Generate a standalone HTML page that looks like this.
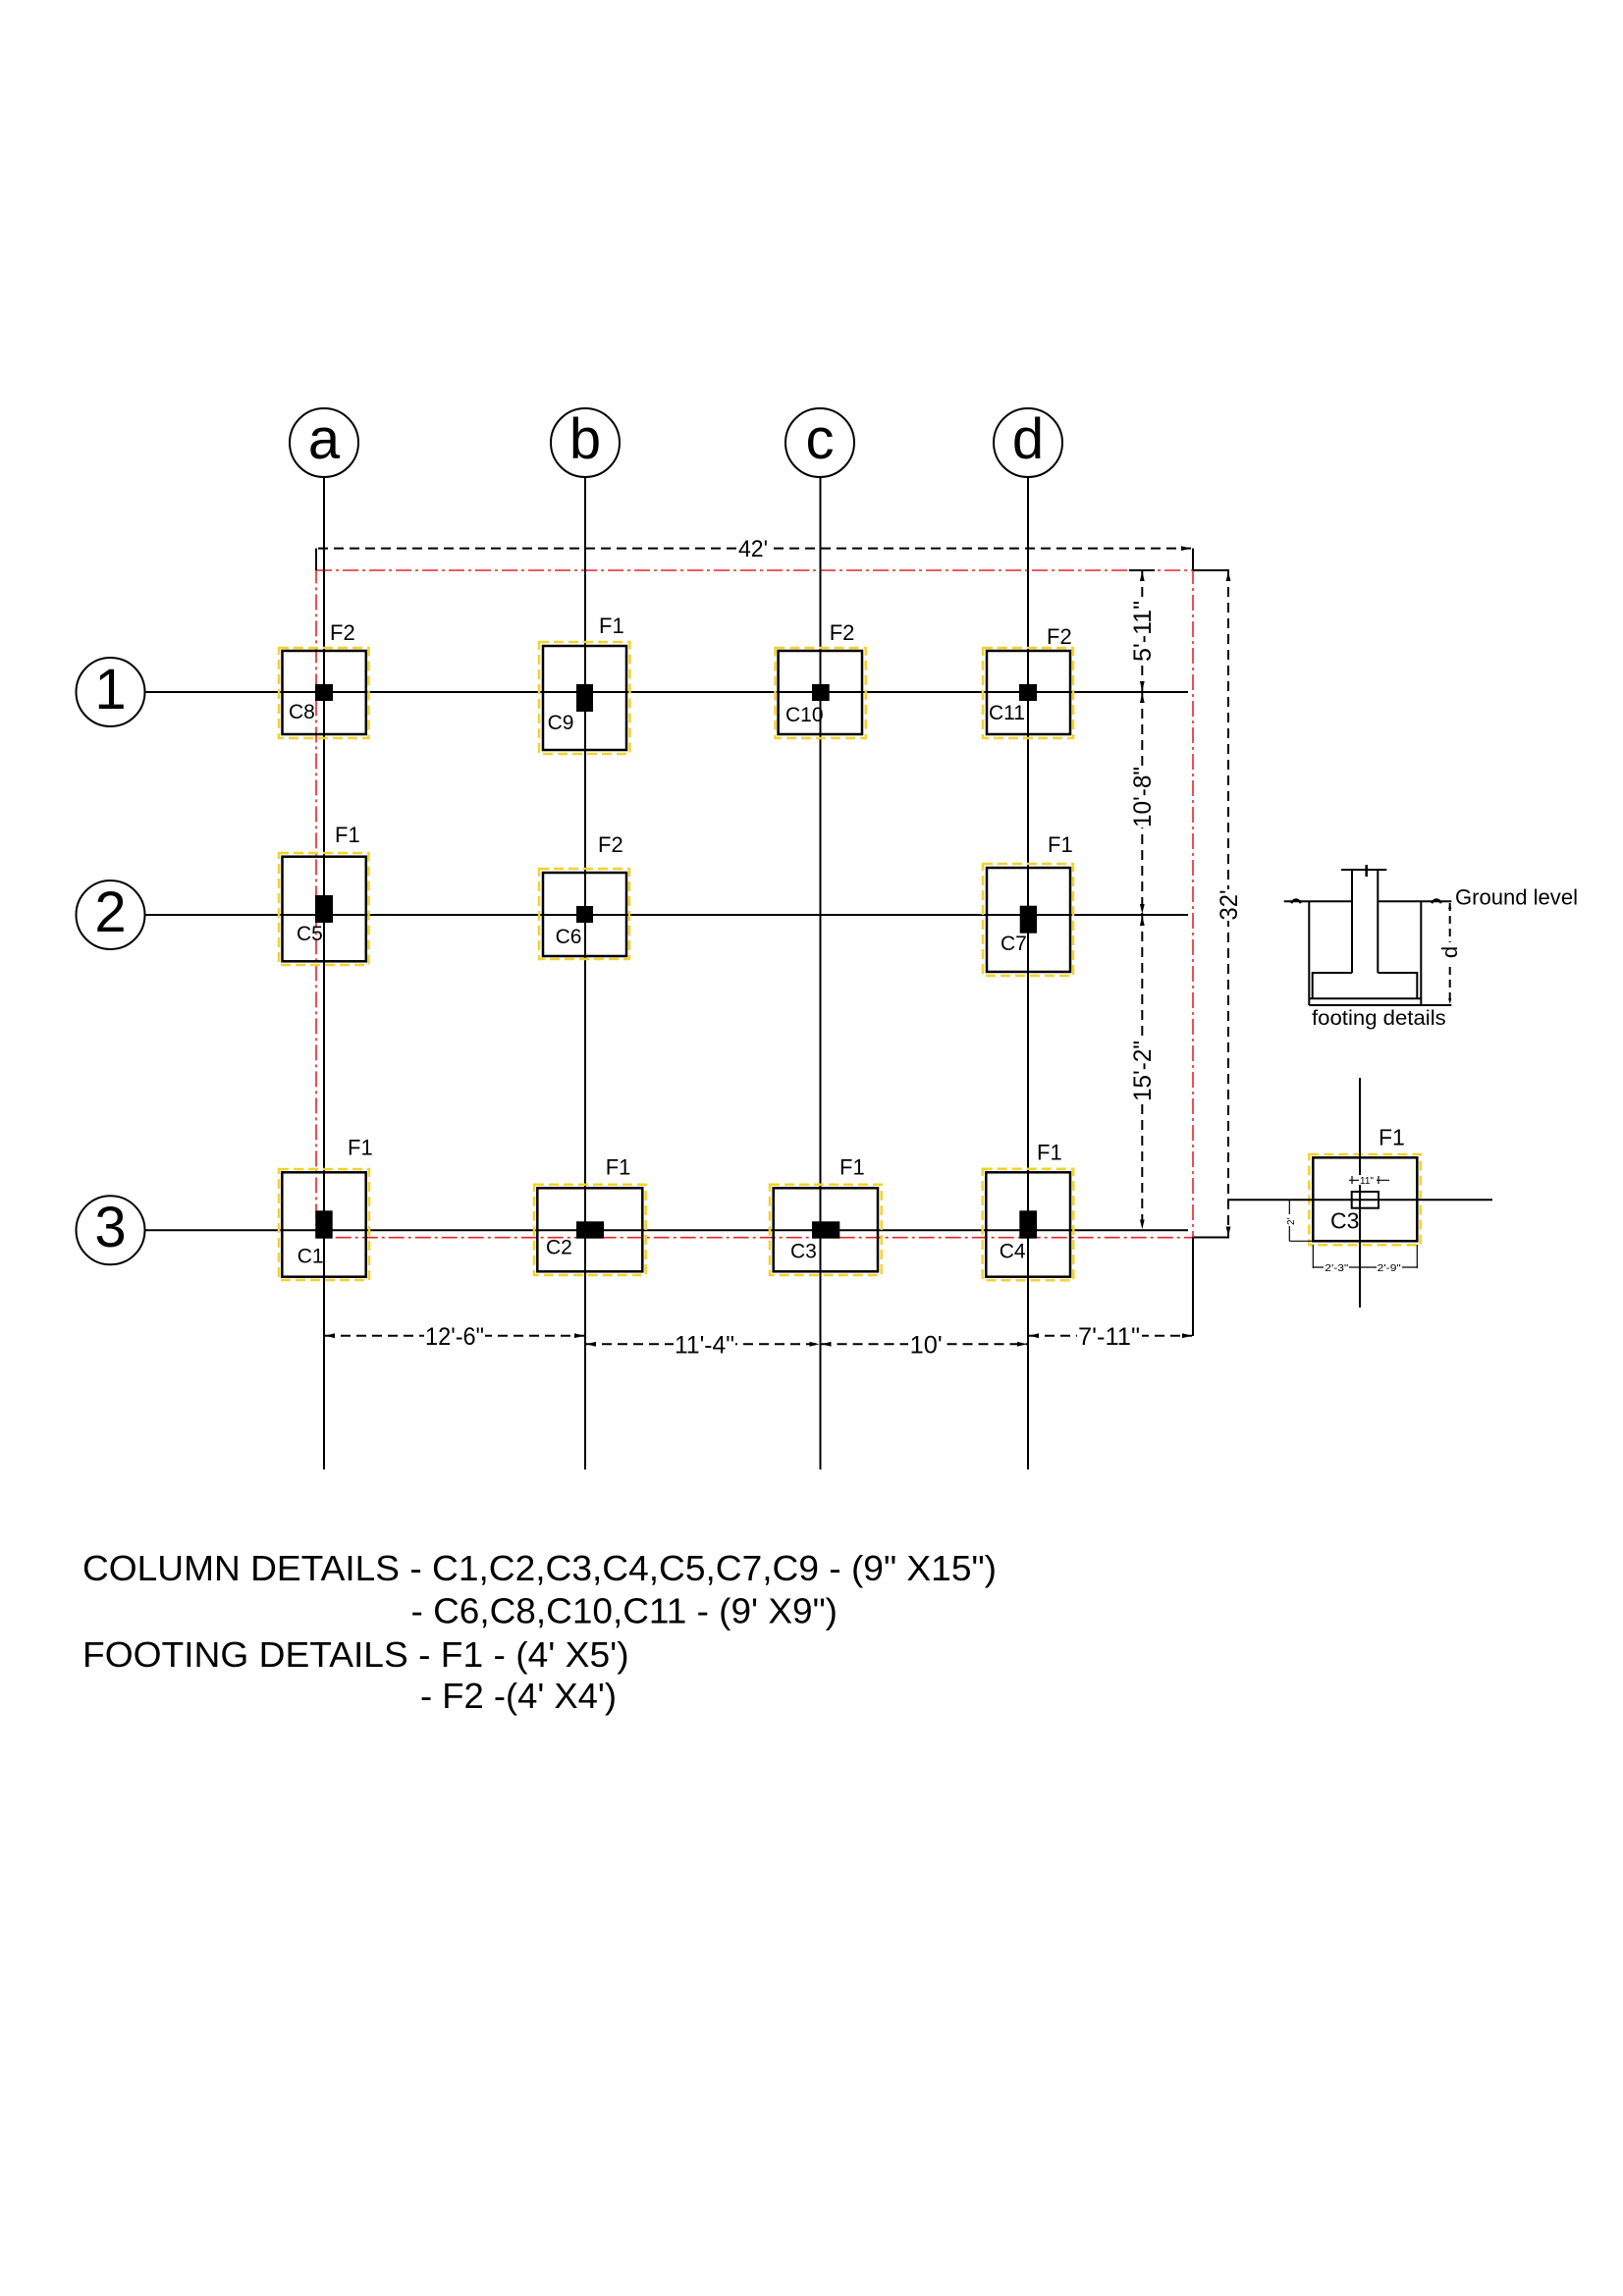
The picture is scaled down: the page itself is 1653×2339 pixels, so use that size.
<!DOCTYPE html>
<html>
<head>
<meta charset="utf-8">
<style>
  html,body{margin:0;padding:0;background:#fff;}
  svg{display:block;}
  text{font-family:"Liberation Sans", Arial, sans-serif;fill:#000;}
</style>
</head>
<body>
<svg width="1653" height="2339" viewBox="0 0 1653 2339" xmlns="http://www.w3.org/2000/svg">
  <defs>
    <marker id="ar" markerWidth="10" markerHeight="6" refX="10" refY="3" orient="auto-start-reverse" markerUnits="userSpaceOnUse">
      <path d="M0,0.6 L10,3 L0,5.4z" fill="#000"/>
    </marker>
    <marker id="ars" markerWidth="6" markerHeight="4" refX="6" refY="2" orient="auto-start-reverse" markerUnits="userSpaceOnUse">
      <path d="M0,0.4 L6,2 L0,3.6z" fill="#000"/>
    </marker>
  </defs>
  <rect x="0" y="0" width="1653" height="2339" fill="#fff"/>

  <!-- Red dash-dot outline -->
  <rect x="322" y="581" width="893" height="679.7" fill="none" stroke="#e8242a" stroke-width="1.6" stroke-dasharray="16,4,3,4"/>

  <!-- Grid vertical lines -->
  <g stroke="#000" stroke-width="2">
    <line x1="330" y1="486" x2="330" y2="1497"/>
    <line x1="596" y1="486" x2="596" y2="1497"/>
    <line x1="835.5" y1="486" x2="835.5" y2="1497"/>
    <line x1="1047" y1="486" x2="1047" y2="1497"/>
    <!-- Grid horizontal lines -->
    <line x1="147.5" y1="705" x2="1210" y2="705"/>
    <line x1="147.5" y1="932" x2="1210" y2="932"/>
    <line x1="147.5" y1="1253.3" x2="1210" y2="1253.3"/>
  </g>

  <!-- Grid bubbles -->
  <g fill="#fff" stroke="#000" stroke-width="2">
    <circle cx="330" cy="451" r="35"/>
    <circle cx="596" cy="451" r="35"/>
    <circle cx="835" cy="451" r="35"/>
    <circle cx="1047" cy="451" r="35"/>
    <circle cx="112.5" cy="705" r="35"/>
    <circle cx="112.5" cy="932" r="35"/>
    <circle cx="112.5" cy="1253.3" r="35"/>
  </g>
  <g font-size="58" text-anchor="middle">
    <text x="330" y="467">a</text>
    <text x="596" y="467">b</text>
    <text x="835" y="467">c</text>
    <text x="1047" y="467">d</text>
    <text x="112.5" y="722">1</text>
    <text x="112.5" y="949">2</text>
    <text x="112.5" y="1270">3</text>
  </g>

  <!-- Footings: yellow dashed outlines -->
  <g fill="none" stroke="#f3d22c" stroke-width="2.5" stroke-dasharray="10,5">
    <rect x="284" y="660" width="91.5" height="92"/>
    <rect x="549" y="654" width="92.5" height="114"/>
    <rect x="789.5" y="660" width="92.3" height="92"/>
    <rect x="1001" y="660" width="92" height="92"/>
    <rect x="284" y="869" width="91.5" height="114"/>
    <rect x="549" y="885" width="92" height="92"/>
    <rect x="1001" y="880" width="92" height="114"/>
    <rect x="284" y="1191" width="92" height="113"/>
    <rect x="544" y="1206.7" width="113.7" height="92.3"/>
    <rect x="784" y="1206.7" width="113.7" height="92.3"/>
    <rect x="1000.7" y="1190.7" width="92.6" height="113.6"/>
    <rect x="1333.3" y="1176" width="113.4" height="92.3"/>
  </g>
  <!-- Footings: black outlines -->
  <g fill="none" stroke="#000" stroke-width="2.5">
    <rect x="287.5" y="663" width="85.3" height="85"/>
    <rect x="553" y="658" width="85" height="106"/>
    <rect x="792.6" y="663" width="85.4" height="85"/>
    <rect x="1005" y="663" width="85" height="85"/>
    <rect x="287.5" y="872.7" width="85.3" height="106.6"/>
    <rect x="553" y="889" width="85" height="85"/>
    <rect x="1005" y="884" width="85" height="106"/>
    <rect x="287.3" y="1194.3" width="85.4" height="106.4"/>
    <rect x="547.3" y="1210.3" width="107" height="85"/>
    <rect x="787.7" y="1210.3" width="106.3" height="85"/>
    <rect x="1004.3" y="1194.3" width="85.7" height="106.4"/>
  </g>
  <!-- Columns -->
  <g fill="#000">
    <rect x="321" y="697" width="18" height="17"/>
    <rect x="587" y="697" width="17" height="28"/>
    <rect x="827" y="697" width="17.7" height="17"/>
    <rect x="1038" y="697" width="18" height="17"/>
    <rect x="321" y="912" width="18" height="28"/>
    <rect x="587" y="923" width="17" height="17"/>
    <rect x="1038.7" y="922.7" width="17.3" height="28"/>
    <rect x="321.3" y="1233.3" width="17.4" height="28.4"/>
    <rect x="587" y="1244.3" width="28" height="17.4"/>
    <rect x="827" y="1244.3" width="28.3" height="17.4"/>
    <rect x="1038.3" y="1233.3" width="17.7" height="28.4"/>
  </g>

  <!-- Footing labels -->
  <g font-size="22">
    <text x="336" y="652">F2</text>
    <text x="610" y="645">F1</text>
    <text x="844.7" y="652">F2</text>
    <text x="1066" y="656">F2</text>
    <text x="341" y="858">F1</text>
    <text x="609" y="868">F2</text>
    <text x="1067" y="868">F1</text>
    <text x="354" y="1176.7">F1</text>
    <text x="616.7" y="1196.7">F1</text>
    <text x="855" y="1196.7">F1</text>
    <text x="1056" y="1181.7">F1</text>
  </g>
  <!-- Column labels -->
  <g font-size="21">
    <text x="294" y="732">C8</text>
    <text x="557.6" y="743">C9</text>
    <text x="800" y="735">C10</text>
    <text x="1007" y="733">C11</text>
    <text x="302" y="958">C5</text>
    <text x="565.6" y="961">C6</text>
    <text x="1019" y="968">C7</text>
    <text x="302.7" y="1286.7">C1</text>
    <text x="556" y="1277.3">C2</text>
    <text x="805" y="1281.7">C3</text>
    <text x="1017.7" y="1281.7">C4</text>
  </g>

  <!-- Solid extension / tick lines -->
  <g stroke="#000" stroke-width="2" fill="none">
    <line x1="322" y1="558.6" x2="322" y2="581"/>
    <line x1="1215" y1="558.6" x2="1215" y2="581"/>
    <line x1="1215" y1="581" x2="1252" y2="581"/>
    <line x1="1215" y1="1260.5" x2="1252" y2="1260.5"/>
    <line x1="1215" y1="1260.5" x2="1215" y2="1361"/>
    <line x1="1150" y1="581" x2="1176" y2="581"/>
  </g>

  <!-- Dashed dimension lines -->
  <g stroke="#000" stroke-width="2" fill="none" stroke-dasharray="10,6">
    <line x1="324" y1="558.6" x2="1213" y2="558.6" marker-end="url(#ar)"/>
    <line x1="1163.3" y1="582" x2="1163.3" y2="704" marker-start="url(#ar)" marker-end="url(#ar)"/>
    <line x1="1163.3" y1="706" x2="1163.3" y2="931" marker-start="url(#ar)" marker-end="url(#ar)"/>
    <line x1="1163.3" y1="933" x2="1163.3" y2="1252.3" marker-start="url(#ar)" marker-end="url(#ar)"/>
    <line x1="1251" y1="582" x2="1251" y2="1259.5" marker-start="url(#ar)" marker-end="url(#ar)"/>
    <line x1="331" y1="1360.7" x2="595" y2="1360.7" marker-start="url(#ar)" marker-end="url(#ar)"/>
    <line x1="597" y1="1369.3" x2="834.5" y2="1369.3" marker-start="url(#ar)" marker-end="url(#ar)"/>
    <line x1="836.5" y1="1369.3" x2="1046" y2="1369.3" marker-start="url(#ar)" marker-end="url(#ar)"/>
    <line x1="1048" y1="1360.7" x2="1214" y2="1360.7" marker-start="url(#ar)" marker-end="url(#ar)"/>
  </g>

  <!-- Dimension text backgrounds -->
  <g fill="#fff">
    <rect x="751" y="548" width="32" height="21"/>
    <rect x="432" y="1349" width="62" height="24"/>
    <rect x="686" y="1358" width="63" height="24"/>
    <rect x="925" y="1358" width="36" height="24"/>
    <rect x="1097" y="1349" width="66" height="24"/>
    <rect x="1151" y="612" width="24" height="62"/>
    <rect x="1151" y="781" width="24" height="62"/>
    <rect x="1151" y="1060" width="24" height="62"/>
    <rect x="1239" y="906" width="24" height="32"/>
  </g>
  <!-- Dimension text -->
  <g font-size="25">
    <text x="752" y="567" font-size="24" textLength="30" lengthAdjust="spacingAndGlyphs">42'</text>
    <text x="433" y="1370" textLength="60" lengthAdjust="spacingAndGlyphs">12'-6"</text>
    <text x="687" y="1378.5" textLength="61" lengthAdjust="spacingAndGlyphs">11'-4"</text>
    <text x="926.7" y="1378.5" textLength="33" lengthAdjust="spacingAndGlyphs">10'</text>
    <text x="1098" y="1370" textLength="63" lengthAdjust="spacingAndGlyphs">7'-11"</text>
    <text transform="translate(1172,674) rotate(-90)" textLength="62" lengthAdjust="spacingAndGlyphs">5'-11"</text>
    <text transform="translate(1172,843) rotate(-90)" textLength="62" lengthAdjust="spacingAndGlyphs">10'-8"</text>
    <text transform="translate(1172,1122) rotate(-90)" textLength="62" lengthAdjust="spacingAndGlyphs">15'-2"</text>
    <text transform="translate(1260,937.5) rotate(-90)" textLength="31" lengthAdjust="spacingAndGlyphs">32'</text>
  </g>

  <!-- Footing section detail -->
  <g stroke="#000" stroke-width="2" fill="none">
    <line x1="1377" y1="886" x2="1377" y2="991"/>
    <line x1="1403.3" y1="886" x2="1403.3" y2="991"/>
    <line x1="1366" y1="886" x2="1412.3" y2="886"/>
    <line x1="1391.7" y1="881" x2="1391.7" y2="893" stroke-width="2.5"/>
    <line x1="1307.7" y1="918.3" x2="1377" y2="918.3"/>
    <line x1="1403.3" y1="918.3" x2="1478.3" y2="918.3"/>
    <line x1="1333.3" y1="918.3" x2="1333.3" y2="1024"/>
    <line x1="1447.3" y1="918.3" x2="1447.3" y2="1024"/>
    <polyline points="1377,991 1336.7,991 1336.7,1017.3"/>
    <polyline points="1403.3,991 1443.3,991 1443.3,1017.3"/>
    <line x1="1333.3" y1="1017.3" x2="1447.3" y2="1017.3"/>
    <line x1="1333.3" y1="1024" x2="1478.3" y2="1024"/>
    <path d="M1315,920 Q1320,913 1325,920" stroke-width="2.5"/>
    <path d="M1458,920 Q1463,913 1468,920" stroke-width="2.5"/>
  </g>
  <line x1="1476.7" y1="920" x2="1476.7" y2="1023" stroke="#000" stroke-width="2" stroke-dasharray="8,5" marker-start="url(#ars)" marker-end="url(#ars)"/>
  <rect x="1467" y="960" width="20" height="20" fill="#fff"/>
  <text transform="translate(1484,970) rotate(-90)" font-size="22" text-anchor="middle">d</text>
  <text x="1482" y="921.7" font-size="22" textLength="125" lengthAdjust="spacingAndGlyphs">Ground level</text>
  <text x="1336" y="1044" font-size="21" textLength="136.7" lengthAdjust="spacingAndGlyphs">footing details</text>

  <!-- C3 plan detail -->
  <g stroke="#000" stroke-width="2" fill="none">
    <line x1="1385" y1="1098" x2="1385" y2="1332"/>
    <line x1="1250" y1="1222.3" x2="1520" y2="1222.3"/>
    <rect x="1337.3" y="1179.3" width="106" height="85" stroke-width="2.5"/>
    <rect x="1376.7" y="1214" width="27.3" height="16.7"/>
    <line x1="1313.3" y1="1222.3" x2="1313.3" y2="1264.3" stroke-width="1.2"/>
    <line x1="1313.3" y1="1264.3" x2="1337.3" y2="1264.3" stroke-width="1.2"/>
    <line x1="1337.3" y1="1268" x2="1337.3" y2="1292" stroke-width="1.2"/>
    <line x1="1443.3" y1="1268" x2="1443.3" y2="1292" stroke-width="1.2"/>
    <line x1="1337.3" y1="1291" x2="1443.3" y2="1291" stroke-width="1.2"/>
    <line x1="1374" y1="1202.3" x2="1415" y2="1202.3" stroke-width="1.2"/>
    <line x1="1377" y1="1198" x2="1377" y2="1206" stroke-width="1.2"/>
    <line x1="1404" y1="1198" x2="1404" y2="1206" stroke-width="1.2"/>
  </g>
  <g fill="#fff">
    <rect x="1384" y="1197" width="18" height="10"/>
    <rect x="1348" y="1286" width="26" height="10"/>
    <rect x="1402" y="1286" width="26" height="10"/>
    <rect x="1308" y="1237" width="11" height="12"/>
  </g>
  <g font-size="10">
    <text x="1385" y="1206">11"</text>
    <text x="1349.3" y="1295" textLength="24" lengthAdjust="spacingAndGlyphs">2'-3"</text>
    <text x="1402.7" y="1295" textLength="24" lengthAdjust="spacingAndGlyphs">2'-9"</text>
    <text transform="translate(1318,1248) rotate(-90)">2'</text>
  </g>
  <text x="1404" y="1166.7" font-size="23">F1</text>
  <text x="1355" y="1251.7" font-size="23">C3</text>

  <!-- Notes -->
  <g font-size="36">
    <text x="84" y="1610" textLength="931" lengthAdjust="spacingAndGlyphs">COLUMN DETAILS - C1,C2,C3,C4,C5,C7,C9 - (9" X15")</text>
    <text x="418.5" y="1653.5" textLength="434.5" lengthAdjust="spacingAndGlyphs">- C6,C8,C10,C11 - (9' X9")</text>
    <text x="84" y="1698" textLength="556.6" lengthAdjust="spacingAndGlyphs">FOOTING DETAILS - F1 - (4' X5')</text>
    <text x="428" y="1740" textLength="200" lengthAdjust="spacingAndGlyphs">- F2 -(4' X4')</text>
  </g>
</svg>
</body>
</html>
